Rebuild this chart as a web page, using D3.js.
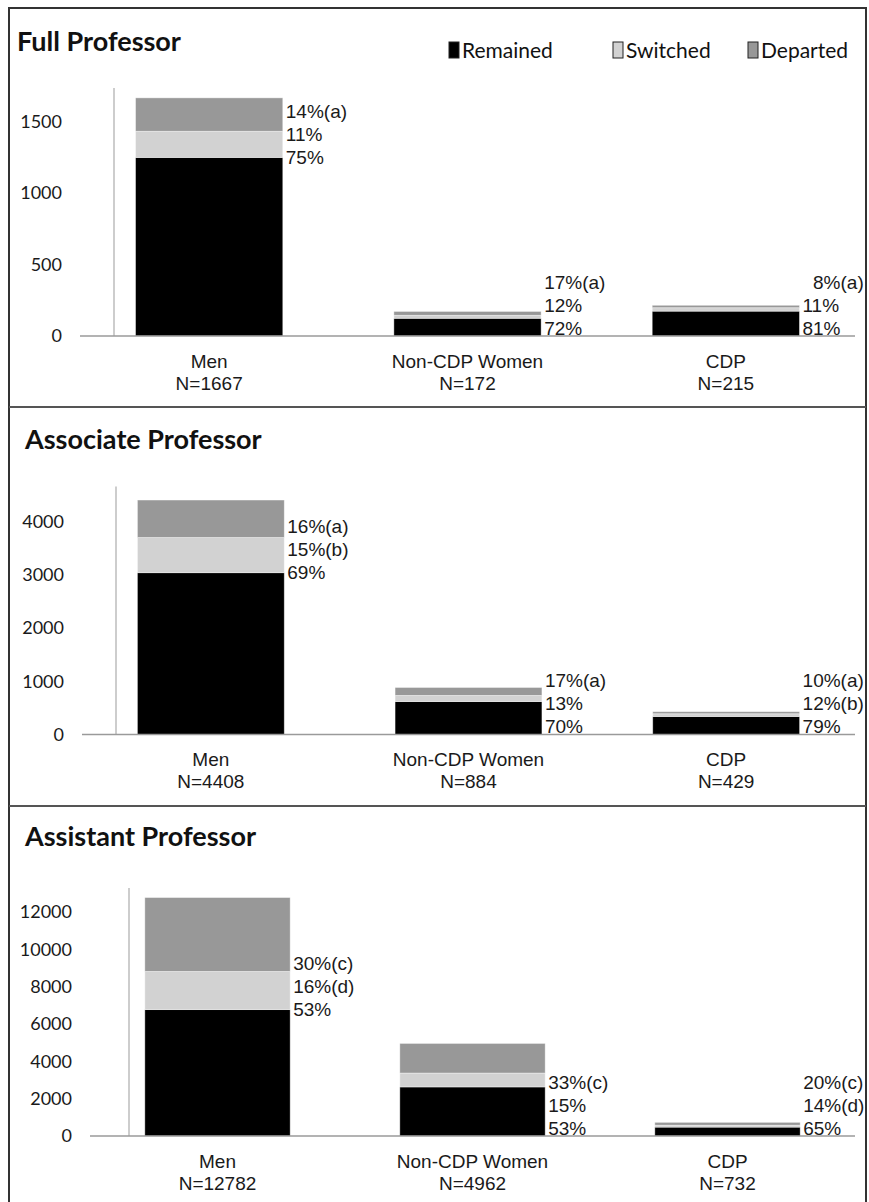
<!DOCTYPE html>
<html>
<head>
<meta charset="utf-8">
<script src="https://cdn.jsdelivr.net/npm/d3@7"></script>
<style>
  body { margin: 0; background: #fff; }
  svg { display: block; }
  .pct, .cat { font-family: "Liberation Sans", Arial, sans-serif; fill: #1a1a1a; }
  .tick-label { font-family: Lato, "Open Sans", sans-serif; fill: #1a1a1a; }
  .title { font-family: Lato, "Open Sans", sans-serif; font-weight: bold; fill: #111; }
  .legend text { font-family: Lato, "Open Sans", sans-serif; fill: #111; }
</style>
</head>
<body>
<div id="chart"></div>
<script>
// groups and series
var groups = ["Men", "Non-CDP Women", "CDP"];
var seriesNames = ["Remained", "Switched", "Departed"];
var seriesColors = ["#000000", "#d2d2d2", "#989898"];
var panelTitles = ["Full Professor", "Associate Professor", "Assistant Professor"];

// N per group
var fullN = [1667, 172, 215];
var assocN = [4408, 884, 429];
var asstN = [12782, 4962, 732];

// counts per group: remained, switched, departed
var fullRemained = [1250, 124, 174];
var fullSwitched = [183, 21, 24];
var fullDeparted = [234, 27, 17];

var assocRemained = [3042, 619, 339];
var assocSwitched = [661, 115, 51];
var assocDeparted = [705, 150, 39];

var asstRemained = [6774, 2630, 476];
var asstSwitched = [2045, 744, 102];
var asstDeparted = [3963, 1588, 154];

// percentage labels (remained, switched, departed)
var fullLabels = [["75%", "11%", "14%(a)"], ["72%", "12%", "17%(a)"], ["81%", "11%", "\u20078%(a)"]];
var assocLabels = [["69%", "15%(b)", "16%(a)"], ["70%", "13%", "17%(a)"], ["79%", "12%(b)", "10%(a)"]];
var asstLabels = [["53%", "16%(d)", "30%(c)"], ["53%", "15%", "33%(c)"], ["65%", "14%(d)", "20%(c)"]];

// y axis ticks and top of each axis
var fullTicks = [0, 500, 1000, 1500];
var assocTicks = [0, 1000, 2000, 3000, 4000];
var asstTicks = [0, 2000, 4000, 6000, 8000, 10000, 12000];
var axisMax = [1750, 4700, 13400];

var panels = [
  { n: fullN, vals: [fullRemained, fullSwitched, fullDeparted], labels: fullLabels, ticks: fullTicks },
  { n: assocN, vals: [assocRemained, assocSwitched, assocDeparted], labels: assocLabels, ticks: assocTicks },
  { n: asstN, vals: [asstRemained, asstSwitched, asstDeparted], labels: asstLabels, ticks: asstTicks }
];

// layout for each panel
var layout = [
  { base: 336, left: 80, axisX: 114, titleX: 17, titleY: 42 },
  { base: 734.5, left: 82, axisX: 116, titleX: 25, titleY: 440 },
  { base: 1136, left: 90, axisX: 129, titleX: 25, titleY: 837 }
];
var plotRight = 855,
  axisHeight = 250;

var svg = d3.select("#chart").append("svg").attr("width", 869).attr("height", 1202);

// frame and dividers
svg.append("path")
  .attr("d", "M9,1210 V8 H866 V1210")
  .attr("fill", "none").attr("stroke", "#333").attr("stroke-width", 2);
[407, 806].forEach(function (y) {
  svg.append("line").attr("x1", 9).attr("x2", 866).attr("y1", y).attr("y2", y)
    .attr("stroke", "#555").attr("stroke-width", 2);
});

panels.forEach(function (p, i) {
  var L = layout[i];
  var g = svg.append("g");

  var x = d3.scaleBand().domain(groups).range([L.left, plotRight]).paddingInner(0.43).paddingOuter(0.215);
  var y = d3.scaleLinear().domain([0, axisMax[i]]).range([L.base, L.base - axisHeight]);

  g.append("text").attr("class", "title")
    .attr("x", L.titleX).attr("y", L.titleY).attr("dy", "0.35em")
    .style("font-size", "27px").text(panelTitles[i]);

  // vertical axis line
  g.append("line").attr("x1", L.axisX).attr("x2", L.axisX)
    .attr("y1", L.base).attr("y2", L.base - axisHeight + 2)
    .attr("stroke", "#bdbdbd").attr("stroke-width", 1.5);

  // tick labels
  g.selectAll(".tick-label").data(p.ticks).enter().append("text")
    .attr("class", "tick-label")
    .attr("x", L.left - 18).attr("y", function (d) { return y(d); })
    .attr("dy", "0.35em").attr("text-anchor", "end")
    .style("font-size", "18px").text(function (d) { return d; });

  // stacked bars
  var rows = groups.map(function (grp, j) {
    var acc = 0;
    return p.vals.map(function (s, k) {
      var seg = { group: grp, k: k, y0: acc, y1: acc + s[j] };
      acc += s[j];
      return seg;
    });
  });
  rows.forEach(function (segs) {
    g.selectAll(null).data(segs).enter().append("rect")
      .attr("x", function (d) { return x(d.group); })
      .attr("width", x.bandwidth())
      .attr("y", function (d) { return y(d.y1); })
      .attr("height", function (d) { return y(d.y0) - y(d.y1); })
      .attr("fill", function (d) { return seriesColors[d.k]; })
      .attr("stroke", "#ffffff").attr("stroke-opacity", 0.5).attr("stroke-width", 0.8);
  });

  // baseline
  g.append("line").attr("x1", L.left).attr("x2", plotRight)
    .attr("y1", L.base).attr("y2", L.base)
    .attr("stroke", "#9a9a9a").attr("stroke-width", 1.5);

  // percent labels
  groups.forEach(function (grp, j) {
    var remTop = y(p.vals[0][j]);
    var bottomY = (L.base - remTop > 60) ? remTop : L.base - 8;
    p.labels[j].forEach(function (lab, k) {
      g.append("text").attr("class", "pct")
        .attr("x", x(grp) + x.bandwidth() + 3)
        .attr("y", bottomY - k * 23)
        .attr("dy", "0.35em")
        .style("font-size", "19px")
        .text(lab);
    });

    // category labels
    g.append("text").attr("class", "cat")
      .attr("x", x(grp) + x.bandwidth() / 2).attr("y", L.base + 25)
      .attr("dy", "0.35em").attr("text-anchor", "middle")
      .style("font-size", "19px").text(grp);
    g.append("text").attr("class", "cat")
      .attr("x", x(grp) + x.bandwidth() / 2).attr("y", L.base + 47)
      .attr("dy", "0.35em").attr("text-anchor", "middle")
      .style("font-size", "19px").text("N=" + p.n[j]);
  });
});

// legend
var legendX = [449, 613, 748];
var legend = svg.append("g").attr("class", "legend");
seriesNames.forEach(function (name, k) {
  legend.append("rect")
    .attr("x", legendX[k]).attr("y", 42).attr("width", 10).attr("height", 16)
    .attr("fill", seriesColors[k]).attr("stroke", "#222").attr("stroke-width", 1);
  legend.append("text")
    .attr("x", legendX[k] + 13).attr("y", 51).attr("dy", "0.35em")
    .style("font-size", "21px").text(name);
});
</script>
</body>
</html>
